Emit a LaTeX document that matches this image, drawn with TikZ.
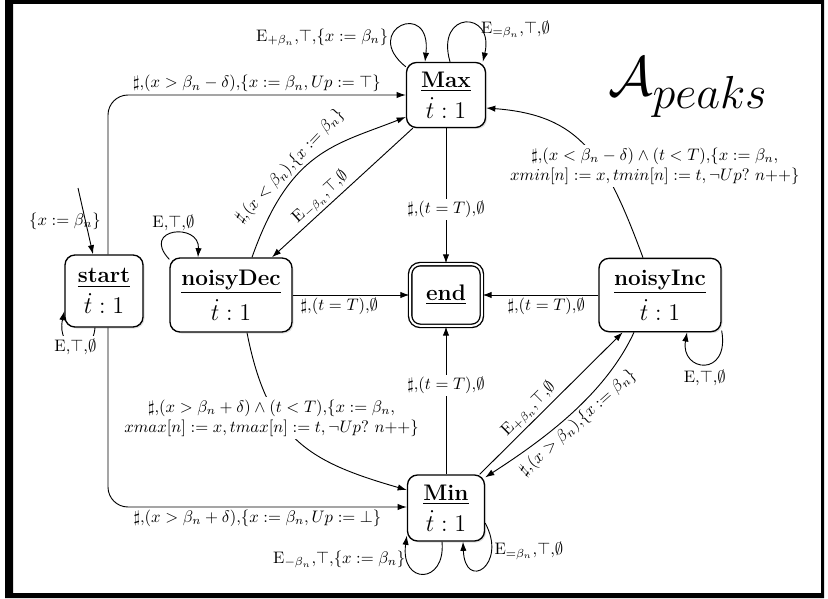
\documentclass[tikz,border=0pt]{standalone}
\usepackage{amsmath,amssymb,graphicx}
\usetikzlibrary{arrows.meta,shadows}
\begin{document}
\begin{tikzpicture}[x=0.6pt,y=-0.6pt,
  conn/.style={-{Latex[length=5.5pt,width=3.8pt]}, line width=0.55pt},
  lab/.style={font=\normalsize, inner sep=1.5pt},
  state/.style={draw, line width=0.8pt, rounded corners=6pt, fill=white, align=center,
     font=\fontsize{13.5}{16}\selectfont, inner sep=2pt,
     drop shadow={opacity=0.25, shadow xshift=0.9pt, shadow yshift=-0.9pt}},
  ]
\useasboundingbox (0,0) rectangle (828,599);
\fill[even odd rule] (5,0) rectangle (824,598) (13,4) rectangle (821,593);

% states
\node[state, minimum width=47.4pt, minimum height=39pt] (max) at (446,95) {\underline{\textbf{Max}}\\[2.5pt]$\dot{t}:1$};
\node[state, minimum width=46.8pt, minimum height=43.2pt] (start) at (104,291) {\underline{\textbf{start}}\\[2.5pt]$\dot{t}:1$};
\node[state, minimum width=73.2pt, minimum height=44.4pt] (ndec) at (231,295) {\underline{\textbf{noisyDec}}\\[2.5pt]$\dot{t}:1$};
\node[state, double, double distance=1.2pt, minimum width=43pt, minimum height=37pt] (end) at (446,295) {\underline{\textbf{end}}};
\node[state, minimum width=73.2pt, minimum height=44pt] (ninc) at (660,295) {\underline{\textbf{noisyInc}}\\[2.5pt]$\dot{t}:1$};
\node[state, minimum width=46.2pt, minimum height=39.6pt] (min) at (446,508) {\underline{\textbf{Min}}\\[2.5pt]$\dot{t}:1$};

\node (title) at (688,88) {\Huge\scalebox{1.34}{$\mathcal{A}_{peaks}$}};

% initial
\coordinate (init) at (78,188);
\draw[conn] (init) -- node[lab, midway, xshift=-12.3pt]{$\{x:=\beta_n\}$} ([xshift=-6.6pt]start.north);

% start loop
\draw[conn] ([xshift=-5.4pt]start.south) .. controls (92,362) and (56,350) .. node[lab, pos=0.5, fill=white]{$\mathrm{E}{,}\top{,}\emptyset$} ([yshift=-12pt]start.west);

% start -> Max, start -> Min
\draw[conn, rounded corners=12pt] ([xshift=2.4pt]start.north) |- node[lab, pos=0.75, above]{$\sharp{,}(x>\beta_n-\delta){,}\{x:=\beta_n,Up:=\top\}$} (max.west);
\draw[conn, rounded corners=12pt] ([xshift=2.4pt]start.south) |- node[lab, pos=0.75, below]{$\sharp{,}(x>\beta_n+\delta){,}\{x:=\beta_n,Up:=\bot\}$} ([yshift=0.6pt]min.west);

% Max <-> noisyDec
\draw[conn] (max.225) -- node[lab, sloped, above, pos=0.6]{$\mathrm{E}_{-\beta_n}{,}\top{,}\emptyset$} ([xshift=24.6pt]ndec.north);
\draw[conn] ([xshift=12.6pt]ndec.north) .. controls (290,150) and (335,145) .. node[lab, sloped, above, pos=0.37]{$\sharp{,}(x<\beta_n){,}\{x:=\beta_n\}$} ([yshift=-13.2pt]max.west);

% to end
\draw[conn] (max.south) -- node[lab, fill=white, pos=0.6]{$\sharp{,}(t=T){,}\emptyset$} (end.north);
\draw[conn] (ndec.east) -- node[lab, below, pos=0.4]{$\sharp{,}(t=T){,}\emptyset$} (end.west);
\draw[conn] (ninc.west) -- node[lab, below, pos=0.45]{$\sharp{,}(t=T){,}\emptyset$} (end.east);
\draw[conn] (min.north) -- node[lab, fill=white, pos=0.6]{$\sharp{,}(t=T){,}\emptyset$} (end.south);

% noisyInc -> Max
\draw[conn] ([xshift=-10.2pt]ninc.north) .. controls (605,155) and (580,115) .. node[lab, fill=white, align=center, pos=0.38, xshift=32.4pt]{$\sharp{,}(x<\beta_n-\delta)\wedge(t<T){,}\{x:=\beta_n,$\\$xmin[n]:=x,tmin[n]:=t,\neg Up?\ n{+}{+}\}$} ([yshift=-7.8pt]max.east);

% noisyDec -> Min
\draw[conn] ([xshift=9.6pt]ndec.south) .. controls (268,440) and (310,462) .. node[lab, fill=white, align=center, pos=0.35, xshift=-4pt]{$\sharp{,}(x>\beta_n+\delta)\wedge(t<T){,}\{x:=\beta_n,$\\$xmax[n]:=x,tmax[n]:=t,\neg Up?\ n{+}{+}\}$} ([yshift=10.8pt]min.west);

% Min <-> noisyInc
\draw[conn] (min.45) -- node[lab, sloped, above, pos=0.4]{$\mathrm{E}_{+\beta_n}{,}\top{,}\emptyset$} (ninc.225);
\draw[conn] ([xshift=-15.6pt]ninc.south) .. controls (605,395) and (543,440) .. node[lab, sloped, below, pos=0.5]{$\sharp{,}(x>\beta_n){,}\{x:=\beta_n\}$} (min.38);

% self loops
\draw[conn] (ndec.150) .. controls (140,228) and (200,222) .. node[lab, above, pos=0.5]{$\mathrm{E}{,}\top{,}\emptyset$} ([xshift=-19.8pt]ndec.north);
\draw[conn] (ninc.-30) .. controls (730,378) and (680,372) .. node[lab, below, pos=0.5, yshift=-2pt]{$\mathrm{E}{,}\top{,}\emptyset$} ([xshift=16.2pt]ninc.south);
\draw[conn] ([xshift=-2.4pt]min.south) .. controls (446,585) and (400,585) .. node[lab, left, pos=0.8]{$\mathrm{E}_{-\beta_n}{,}\top{,}\{x:=\beta_n\}$} ([yshift=3.6pt]min.south west);
\draw[conn] ([yshift=-9pt]min.east) .. controls (508,565) and (465,592) .. node[lab, right, pos=0.25]{$\mathrm{E}_{=\beta_n}{,}\top{,}\emptyset$} ([xshift=10.2pt]min.south);
\draw[conn] ([yshift=-3pt]max.north west) .. controls (360,30) and (432,-2) .. node[lab, left, pos=0.3]{$\mathrm{E}_{+\beta_n}{,}\top{,}\{x:=\beta_n\}$} ([xshift=-12.6pt]max.north);
\draw[conn] ([xshift=2.4pt]max.north) .. controls (435,10) and (495,10) .. node[lab, right, pos=0.7]{$\mathrm{E}_{=\beta_n}{,}\top{,}\emptyset$} ([xshift=-2pt]max.north east);
\end{tikzpicture}
\end{document}
